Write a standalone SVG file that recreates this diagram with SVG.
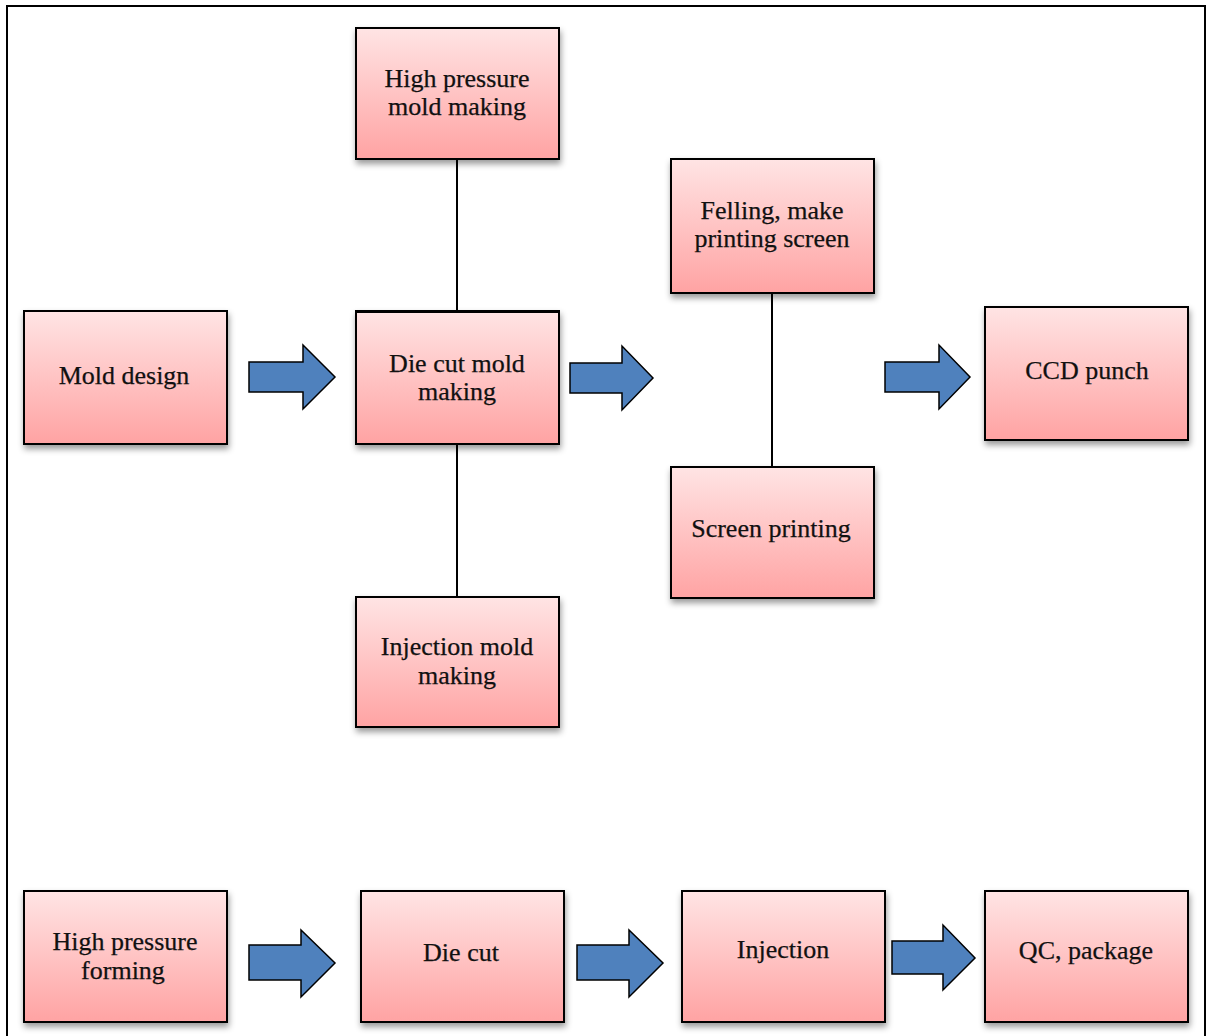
<svg xmlns="http://www.w3.org/2000/svg" width="1208" height="1036" viewBox="0 0 1208 1036">
<style>
.box{fill:url(#pink);stroke:#000;stroke-width:2;filter:url(#sh)}
.lbl{font-family:"Liberation Serif","Times New Roman",serif;font-size:26px;fill:#111;text-anchor:middle;stroke:#111;stroke-width:0.25}
.arr{fill:#4F81BD;stroke:#000;stroke-width:1.5;stroke-linejoin:miter}
.con{stroke:#000;stroke-width:2;fill:none}
</style>
<defs>
<linearGradient id="pink" x1="0" y1="0" x2="0" y2="1">
<stop offset="0" stop-color="#FFE4E4"/>
<stop offset="1" stop-color="#FFA3A3"/>
</linearGradient>
<filter id="sh" x="-10%" y="-10%" width="125%" height="130%">
<feDropShadow dx="1" dy="4" stdDeviation="3" flood-color="#000" flood-opacity="0.4"/>
</filter>
</defs>
<rect width="1208" height="1036" fill="#fff"/>
<rect x="7" y="6" width="1198" height="1045" fill="none" stroke="#000" stroke-width="2"/>

<g id="connectors">
<line class="con" x1="457" y1="159" x2="457" y2="311"/>
<line class="con" x1="457" y1="444" x2="457" y2="597"/>
<line class="con" x1="772" y1="293" x2="772" y2="467"/>
<path class="arr" d="M249,362 H303 V345 L335,377 L303,409 V392 H249 Z"/>
<path class="arr" d="M570,363 H622 V346 L653,378 L622,410 V393 H570 Z"/>
<path class="arr" d="M885,362 H939 V345 L970,377 L939,409 V392 H885 Z"/>
<path class="arr" d="M249,945 H301 V930 L335,963 L301,997 V980 H249 Z"/>
<path class="arr" d="M577,945 H629 V930 L663,963 L629,997 V980 H577 Z"/>
<path class="arr" d="M892,941 H943 V925 L975,958 L943,990 V974 H892 Z"/>
</g>

<g id="mold-design">
<rect class="box" x="24" y="311" width="203" height="133"/>
<text class="lbl" x="124" y="384">Mold design</text>
</g>
<g id="high-pressure-mold">
<rect class="box" x="356" y="28" width="203" height="131"/>
<text class="lbl" x="457" y="87">High pressure</text>
<text class="lbl" x="457" y="115">mold making</text>
</g>
<g id="die-cut-mold">
<rect class="box" x="356" y="311" width="203" height="133"/>
<line x1="355" y1="311.5" x2="560" y2="311.5" stroke="#000" stroke-width="3"/>
<text class="lbl" x="457" y="372">Die cut mold</text>
<text class="lbl" x="457" y="400">making</text>
</g>
<g id="injection-mold">
<rect class="box" x="356" y="597" width="203" height="130"/>
<text class="lbl" x="457" y="655">Injection mold</text>
<text class="lbl" x="457" y="684">making</text>
</g>
<g id="felling">
<rect class="box" x="671" y="159" width="203" height="134"/>
<text class="lbl" x="772" y="219">Felling, make</text>
<text class="lbl" x="772" y="247">printing screen</text>
</g>
<g id="screen-printing">
<rect class="box" x="671" y="467" width="203" height="131"/>
<text class="lbl" x="771" y="537">Screen printing</text>
</g>
<g id="ccd-punch">
<rect class="box" x="985" y="307" width="203" height="133"/>
<text class="lbl" x="1087" y="379">CCD punch</text>
</g>
<g id="high-pressure-forming">
<rect class="box" x="24" y="891" width="203" height="131"/>
<text class="lbl" x="125" y="950">High pressure</text>
<text class="lbl" x="123" y="979">forming</text>
</g>
<g id="die-cut">
<rect class="box" x="361" y="891" width="203" height="131"/>
<text class="lbl" x="461" y="961">Die cut</text>
</g>
<g id="injection">
<rect class="box" x="682" y="891" width="203" height="131"/>
<text class="lbl" x="783" y="958">Injection</text>
</g>
<g id="qc-package">
<rect class="box" x="985" y="891" width="203" height="131"/>
<text class="lbl" x="1086" y="959">QC, package</text>
</g>
</svg>
